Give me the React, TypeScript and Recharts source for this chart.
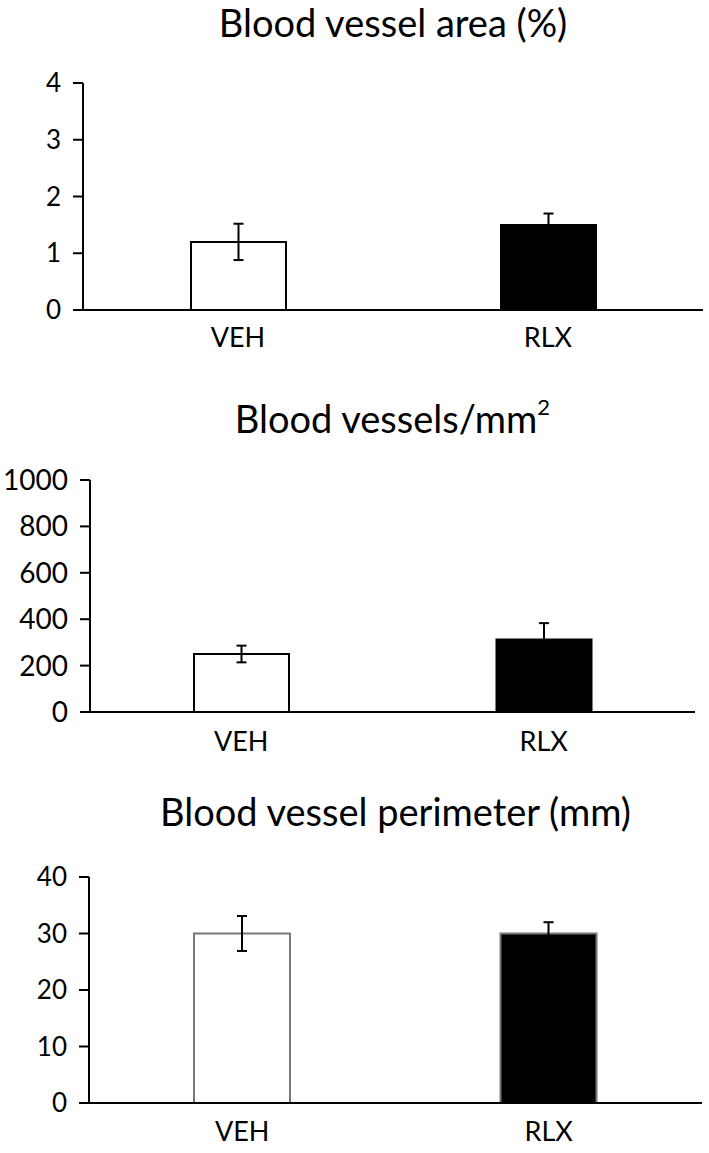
import React from "react";
import { BarChart, Bar, XAxis, YAxis, ErrorBar, Cell } from "recharts";

const groups = ["VEH", "RLX"];
const fills = ["#ffffff", "#000000"];

const areaMean = [1.2, 1.5];
const areaErr = [0.32, 0.2];
const areaTicks = [0, 1, 2, 3, 4];

const densityMean = [250, 313];
const densityErr = [36, 70];
const densityTicks = [0, 200, 400, 600, 800, 1000];

const perimMean = [30, 30];
const perimErr = [3.1, 2];
const perimTicks = [0, 10, 20, 30, 40];

const FONT = "Lato, 'Open Sans', sans-serif";

const toRows = (mean: number[], err: number[]) =>
  groups.map((g, i) => ({ name: g, value: mean[i], err: err[i] }));

interface PanelProps {
  title: React.ReactNode;
  top: number;
  height: number;
  marginTop: number;
  axisWidth: number;
  marginRight: number;
  xAxisHeight: number;
  labelGap: number;
  tickFont: number;
  barSize: number;
  barStroke: string;
  titleTop: number;
  rows: { name: string; value: number; err: number }[];
  ticks: number[];
}

function Panel(p: PanelProps) {
  const plotLeft = p.axisWidth;
  const plotRight = 709 - p.marginRight;
  const center = (plotLeft + plotRight) / 2;
  return (
    <div style={{ position: "absolute", left: 0, top: p.top, width: 709, height: p.height }}>
      <div
        style={{
          position: "absolute",
          top: p.titleTop,
          left: center - 320,
          width: 640,
          textAlign: "center",
          fontFamily: FONT,
          fontSize: 38,
          lineHeight: 1,
          color: "#000",
          whiteSpace: "nowrap",
        }}
      >
        {p.title}
      </div>
      <BarChart
        width={709}
        height={p.height}
        data={p.rows}
        margin={{ top: p.marginTop, right: p.marginRight, bottom: 0, left: 0 }}
      >
        <XAxis
          dataKey="name"
          height={p.xAxisHeight}
          tickLine={false}
          tickSize={0}
          tickMargin={p.labelGap}
          axisLine={{ stroke: "#000", strokeWidth: 2 }}
          tick={{ fontSize: 27, fill: "#000", fontFamily: FONT }}
        />
        <YAxis
          width={p.axisWidth}
          domain={[p.ticks[0], p.ticks[p.ticks.length - 1]]}
          ticks={p.ticks}
          interval={0}
          tickSize={10}
          tickMargin={12}
          axisLine={{ stroke: "#000", strokeWidth: 2 }}
          tickLine={{ stroke: "#000", strokeWidth: 2 }}
          tick={{ fontSize: p.tickFont, fill: "#000", fontFamily: FONT }}
        />
        <Bar dataKey="value" barSize={p.barSize} stroke={p.barStroke} strokeWidth={2} isAnimationActive={false}>
          {p.rows.map((r, i) => (
            <Cell key={r.name} fill={fills[i]} />
          ))}
          <ErrorBar dataKey="err" direction="y" width={5} stroke="#000" strokeWidth={2} />
        </Bar>
      </BarChart>
    </div>
  );
}

export default function App() {
  return (
    <div style={{ position: "absolute", left: 0, top: 0, width: 709, height: 1153, background: "#fff" }}>
      <Panel
        title="Blood vessel area (%)"
        top={0}
        height={370}
        titleTop={3}
        marginTop={83}
        axisWidth={83}
        marginRight={6}
        xAxisHeight={60}
        labelGap={18}
        tickFont={26}
        barSize={95}
        barStroke="#000"
        rows={toRows(areaMean, areaErr)}
        ticks={areaTicks}
      />
      <Panel
        title={
          <span>
            Blood vessels/mm<sup style={{ fontSize: 22, verticalAlign: "top", position: "relative", top: -3 }}>2</sup>
          </span>
        }
        top={400}
        height={370}
        titleTop={-1}
        marginTop={80}
        axisWidth={90}
        marginRight={14}
        xAxisHeight={58}
        labelGap={20}
        tickFont={28}
        barSize={95}
        barStroke="#000"
        rows={toRows(densityMean, densityErr)}
        ticks={densityTicks}
      />
      <Panel
        title="Blood vessel perimeter (mm)"
        top={800}
        height={353}
        titleTop={-8}
        marginTop={77}
        axisWidth={89}
        marginRight={7}
        xAxisHeight={50}
        labelGap={19}
        tickFont={26}
        barSize={96}
        barStroke="#777"
        rows={toRows(perimMean, perimErr)}
        ticks={perimTicks}
      />
    </div>
  );
}
